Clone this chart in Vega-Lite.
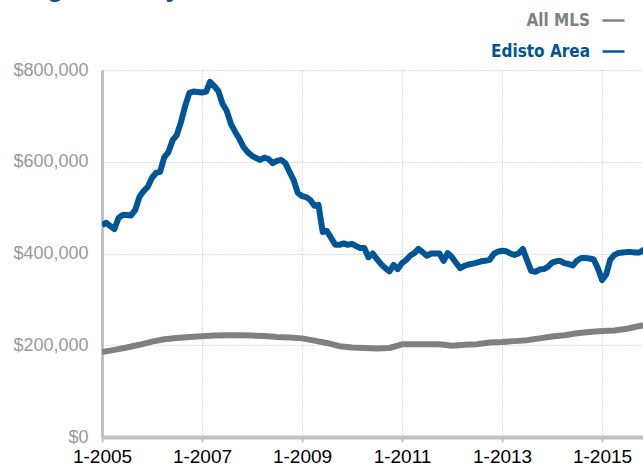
{
  "$schema": "https://vega.github.io/schema/vega-lite/v6.json",
  "width": 541,
  "height": 367,
  "autosize": {"type": "none"},
  "padding": {"left": 102, "top": 70, "right": 0, "bottom": 33},
  "background": "white",
  "config": {"view": {"stroke": null}, "font": "Liberation Sans"},
  "title": {"text": "Single-Family Detached", "anchor": "start", "frame": "group", "dx": -97, "dy": 19, "offset": 4, "baseline": "alphabetic", "fontSize": 27, "font": "Liberation Sans", "fontWeight": "bold", "color": "#134f87"},
  "datasets": {
    "mls": [
      {"d": "2005-01-01", "v": 185000}, {"d": "2005-04-01", "v": 190000}, {"d": "2005-07-01", "v": 195000}, {"d": "2005-10-01", "v": 201000},
      {"d": "2006-01-01", "v": 208000}, {"d": "2006-04-01", "v": 213000}, {"d": "2006-07-01", "v": 216000}, {"d": "2006-10-01", "v": 218000},
      {"d": "2007-01-01", "v": 219500}, {"d": "2007-04-01", "v": 221000}, {"d": "2007-07-01", "v": 222000}, {"d": "2007-10-01", "v": 222000},
      {"d": "2008-01-01", "v": 221000}, {"d": "2008-04-01", "v": 220000}, {"d": "2008-07-01", "v": 218000}, {"d": "2008-10-01", "v": 217000},
      {"d": "2009-01-01", "v": 215000}, {"d": "2009-04-01", "v": 210000}, {"d": "2009-07-01", "v": 205000}, {"d": "2009-10-01", "v": 198000},
      {"d": "2010-01-01", "v": 195000}, {"d": "2010-04-01", "v": 194000}, {"d": "2010-07-01", "v": 193000}, {"d": "2010-10-01", "v": 194000},
      {"d": "2011-01-01", "v": 202000}, {"d": "2011-04-01", "v": 202000}, {"d": "2011-07-01", "v": 202000}, {"d": "2011-10-01", "v": 202000},
      {"d": "2012-01-01", "v": 199000}, {"d": "2012-04-01", "v": 201000}, {"d": "2012-07-01", "v": 202000}, {"d": "2012-10-01", "v": 206000},
      {"d": "2013-01-01", "v": 207000}, {"d": "2013-04-01", "v": 209000}, {"d": "2013-07-01", "v": 211000}, {"d": "2013-10-01", "v": 215000},
      {"d": "2014-01-01", "v": 219000}, {"d": "2014-04-01", "v": 222000}, {"d": "2014-07-01", "v": 226000}, {"d": "2014-10-01", "v": 229000},
      {"d": "2015-01-01", "v": 231000}, {"d": "2015-04-01", "v": 232000}, {"d": "2015-07-01", "v": 236000}, {"d": "2015-10-01", "v": 242000},
      {"d": "2016-01-01", "v": 246000}
    ],
    "edisto": [
      {"d": "2005-01-01", "v": 462000}, {"d": "2005-02-01", "v": 467000}, {"d": "2005-03-01", "v": 460000}, {"d": "2005-04-01", "v": 453000},
      {"d": "2005-05-01", "v": 477000}, {"d": "2005-06-01", "v": 484000}, {"d": "2005-07-01", "v": 484000}, {"d": "2005-08-01", "v": 483000},
      {"d": "2005-09-01", "v": 495000}, {"d": "2005-10-01", "v": 523000}, {"d": "2005-11-01", "v": 536000}, {"d": "2005-12-01", "v": 545000},
      {"d": "2006-01-01", "v": 565000}, {"d": "2006-02-01", "v": 576000}, {"d": "2006-03-01", "v": 578000}, {"d": "2006-04-01", "v": 610000},
      {"d": "2006-05-01", "v": 621000}, {"d": "2006-06-01", "v": 647000}, {"d": "2006-07-01", "v": 658000}, {"d": "2006-08-01", "v": 687000},
      {"d": "2006-09-01", "v": 722000}, {"d": "2006-10-01", "v": 750000}, {"d": "2006-11-01", "v": 753000}, {"d": "2006-12-01", "v": 752000},
      {"d": "2007-01-01", "v": 751000}, {"d": "2007-02-01", "v": 753000}, {"d": "2007-03-01", "v": 774000}, {"d": "2007-04-01", "v": 765000},
      {"d": "2007-05-01", "v": 754000}, {"d": "2007-06-01", "v": 726000}, {"d": "2007-07-01", "v": 711000}, {"d": "2007-08-01", "v": 682000},
      {"d": "2007-09-01", "v": 665000}, {"d": "2007-10-01", "v": 650000}, {"d": "2007-11-01", "v": 632000}, {"d": "2007-12-01", "v": 621000},
      {"d": "2008-01-01", "v": 613000}, {"d": "2008-02-01", "v": 608000}, {"d": "2008-03-01", "v": 604000}, {"d": "2008-04-01", "v": 609000},
      {"d": "2008-05-01", "v": 606000}, {"d": "2008-06-01", "v": 597000}, {"d": "2008-07-01", "v": 602000}, {"d": "2008-08-01", "v": 604000},
      {"d": "2008-09-01", "v": 597000}, {"d": "2008-10-01", "v": 578000}, {"d": "2008-11-01", "v": 560000}, {"d": "2008-12-01", "v": 532000},
      {"d": "2009-01-01", "v": 525000}, {"d": "2009-02-01", "v": 523000}, {"d": "2009-03-01", "v": 517000}, {"d": "2009-04-01", "v": 504000},
      {"d": "2009-05-01", "v": 506000}, {"d": "2009-06-01", "v": 447000}, {"d": "2009-07-01", "v": 449000}, {"d": "2009-08-01", "v": 434000},
      {"d": "2009-09-01", "v": 419000}, {"d": "2009-10-01", "v": 419000}, {"d": "2009-11-01", "v": 422000}, {"d": "2009-12-01", "v": 419000},
      {"d": "2010-01-01", "v": 421000}, {"d": "2010-02-01", "v": 416000}, {"d": "2010-03-01", "v": 412000}, {"d": "2010-04-01", "v": 412000},
      {"d": "2010-05-01", "v": 392000}, {"d": "2010-06-01", "v": 400000}, {"d": "2010-07-01", "v": 388000}, {"d": "2010-08-01", "v": 377000},
      {"d": "2010-09-01", "v": 368000}, {"d": "2010-10-01", "v": 361000}, {"d": "2010-11-01", "v": 375000}, {"d": "2010-12-01", "v": 366000},
      {"d": "2011-01-01", "v": 379000}, {"d": "2011-02-01", "v": 386000}, {"d": "2011-03-01", "v": 395000}, {"d": "2011-04-01", "v": 401000},
      {"d": "2011-05-01", "v": 410000}, {"d": "2011-06-01", "v": 403000}, {"d": "2011-07-01", "v": 395000}, {"d": "2011-08-01", "v": 400000},
      {"d": "2011-09-01", "v": 400000}, {"d": "2011-10-01", "v": 400000}, {"d": "2011-11-01", "v": 384000}, {"d": "2011-12-01", "v": 401000},
      {"d": "2012-01-01", "v": 392000}, {"d": "2012-02-01", "v": 379000}, {"d": "2012-03-01", "v": 368000}, {"d": "2012-04-01", "v": 373000},
      {"d": "2012-05-01", "v": 376000}, {"d": "2012-06-01", "v": 378000}, {"d": "2012-07-01", "v": 380000}, {"d": "2012-08-01", "v": 383000},
      {"d": "2012-09-01", "v": 384000}, {"d": "2012-10-01", "v": 386000}, {"d": "2012-11-01", "v": 399000}, {"d": "2012-12-01", "v": 404000},
      {"d": "2013-01-01", "v": 406000}, {"d": "2013-02-01", "v": 405000}, {"d": "2013-03-01", "v": 400000}, {"d": "2013-04-01", "v": 397000},
      {"d": "2013-05-01", "v": 400000}, {"d": "2013-06-01", "v": 410000}, {"d": "2013-07-01", "v": 386000}, {"d": "2013-08-01", "v": 362000},
      {"d": "2013-09-01", "v": 360000}, {"d": "2013-10-01", "v": 365000}, {"d": "2013-11-01", "v": 366000}, {"d": "2013-12-01", "v": 371000},
      {"d": "2014-01-01", "v": 380000}, {"d": "2014-02-01", "v": 383000}, {"d": "2014-03-01", "v": 384000}, {"d": "2014-04-01", "v": 379000},
      {"d": "2014-05-01", "v": 377000}, {"d": "2014-06-01", "v": 374000}, {"d": "2014-07-01", "v": 384000}, {"d": "2014-08-01", "v": 390000},
      {"d": "2014-09-01", "v": 390000}, {"d": "2014-10-01", "v": 389000}, {"d": "2014-11-01", "v": 387000}, {"d": "2014-12-01", "v": 368000},
      {"d": "2015-01-01", "v": 342000}, {"d": "2015-02-01", "v": 355000}, {"d": "2015-03-01", "v": 386000}, {"d": "2015-04-01", "v": 397000},
      {"d": "2015-05-01", "v": 401000}, {"d": "2015-06-01", "v": 402000}, {"d": "2015-07-01", "v": 403000}, {"d": "2015-08-01", "v": 403000},
      {"d": "2015-09-01", "v": 402000}, {"d": "2015-10-01", "v": 402000}, {"d": "2015-11-01", "v": 408000}, {"d": "2015-12-01", "v": 405000}
    ]
  },
  "layer": [
    {
      "data": {"name": "mls"},
      "mark": {"type": "line", "strokeWidth": 6, "clip": true, "strokeJoin": "round"},
      "encoding": {
        "x": {
          "field": "d", "type": "temporal",
          "scale": {"type": "utc", "domain": [{"year": 2005, "month": 1, "date": 1, "utc": true}, {"year": 2015, "month": 10, "date": 27, "utc": true}], "nice": false},
          "axis": {
            "title": null,
            "values": [
              {"year": 2005, "month": 1, "date": 1, "utc": true},
              {"year": 2007, "month": 1, "date": 1, "utc": true},
              {"year": 2009, "month": 1, "date": 1, "utc": true},
              {"year": 2011, "month": 1, "date": 1, "utc": true},
              {"year": 2013, "month": 1, "date": 1, "utc": true},
              {"year": 2015, "month": 1, "date": 1, "utc": true}
            ],
            "format": "%-m-%Y",
            "labelFont": "Liberation Sans",
            "labelFontSize": 19,
            "labelColor": "#000000",
            "labelPadding": 5,
            "labelFlush": false,
            "labelOverlap": false,
            "tickSize": 5,
            "tickWidth": 2,
            "tickColor": "#c0c0c0",
            "domainColor": "#c0c0c0",
            "domainWidth": 4,
            "gridColor": "#bdbdbd",
            "gridDash": [1, 2],
            "gridWidth": 1
          }
        },
        "y": {
          "field": "v", "type": "quantitative",
          "scale": {"domain": [0, 800000], "nice": false},
          "axis": {
            "title": null,
            "values": [0, 200000, 400000, 600000, 800000],
            "format": "$,.0f",
            "labelFont": "Liberation Sans",
            "labelFontSize": 18,
            "labelColor": "#999999",
            "labelPadding": 14,
            "ticks": false,
            "domainColor": "#c0c0c0",
            "domainWidth": 3,
            "gridColor": "#bdbdbd",
            "gridDash": [1, 2],
            "gridWidth": 1
          }
        },
        "color": {
          "datum": "All MLS",
          "scale": {"domain": ["All MLS", "Edisto Area"], "range": ["#808080", "#005596"]},
          "legend": {
            "orient": "none",
            "legendX": 499,
            "legendY": -62,
            "title": null,
            "padding": 0,
            "symbolType": "stroke",
            "symbolSize": 484,
            "symbolStrokeWidth": 2.5,
            "labelFont": "DejaVu Sans Condensed",
            "labelFontWeight": "bold",
            "labelFontSize": 17,
            "labelAlign": "right",
            "labelOffset": -36,
            "rowPadding": 10,
            "encode": {"labels": {"update": {"fill": {"scale": "color", "field": "value"}}}}
          }
        }
      }
    },
    {
      "data": {"name": "edisto"},
      "mark": {"type": "line", "strokeWidth": 6, "clip": true, "strokeJoin": "round"},
      "encoding": {
        "x": {"field": "d", "type": "temporal"},
        "y": {"field": "v", "type": "quantitative"},
        "color": {"datum": "Edisto Area"}
      }
    }
  ]
}
